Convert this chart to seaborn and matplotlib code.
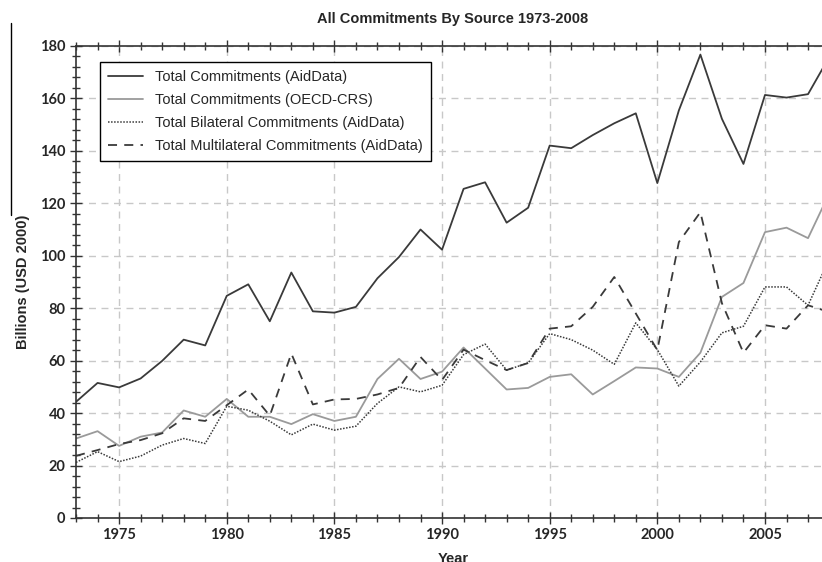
import numpy as np
import pandas as pd
import matplotlib
matplotlib.use("Agg")
import matplotlib.pyplot as plt
import seaborn as sns
from matplotlib.ticker import MultipleLocator
from matplotlib.lines import Line2D

# --- 数据 ---
years = list(range(1973, 2009))
total_aiddata = [44.3, 51.5, 49.8, 53.2, 59.9, 68.0, 65.8, 84.7, 89.1, 75.0,
                 93.6, 78.8, 78.3, 80.5, 91.4, 99.5, 110.0, 102.3, 125.5, 128.0,
                 112.6, 118.3, 142.0, 141.0, 146.0, 150.5, 154.3, 127.7, 155.4, 176.7,
                 152.2, 135.0, 161.3, 160.3, 161.6, 176.0]
total_oecd = [30.3, 33.1, 27.5, 31.0, 32.6, 41.0, 38.6, 45.4, 38.6, 38.6,
              35.8, 39.6, 37.0, 38.6, 53.0, 60.7, 53.0, 55.8, 65.0, 57.0,
              49.0, 49.6, 53.8, 54.8, 47.1, 52.2, 57.4, 57.0, 53.8, 63.0,
              84.3, 89.6, 109.0, 110.7, 106.7, 124.0]
bilateral = [21.2, 25.3, 21.5, 23.6, 27.8, 30.3, 28.4, 42.6, 41.1, 36.9,
             31.7, 35.8, 33.5, 35.0, 43.7, 50.0, 48.1, 50.6, 62.3, 66.3,
             56.4, 59.1, 70.3, 68.0, 64.0, 58.6, 74.4, 64.2, 50.3, 59.5,
             70.6, 73.1, 88.1, 88.1, 81.1, 99.0]
multilateral = [23.7, 25.9, 28.2, 29.7, 32.3, 38.0, 37.0, 43.0, 49.0, 39.0,
                62.7, 43.3, 45.2, 45.4, 47.1, 49.6, 61.4, 52.6, 64.2, 60.2,
                56.4, 59.1, 72.2, 73.1, 80.5, 91.9, 78.0, 64.0, 105.2, 116.6,
                81.9, 63.0, 73.5, 72.2, 81.1, 78.5]

labels = ["Total Commitments (AidData)", "Total Commitments (OECD-CRS)",
          "Total Bilateral Commitments (AidData)", "Total Multilateral Commitments (AidData)"]

df = pd.DataFrame({"year": years,
                   labels[0]: total_aiddata,
                   labels[1]: total_oecd,
                   labels[2]: bilateral,
                   labels[3]: multilateral})

# --- 样式 ---
sns.set_style("white")
plt.rcParams['font.family'] = ['Liberation Sans', 'DejaVu Sans']

fig = plt.figure(figsize=(8.22, 5.62), dpi=100)
ax = fig.add_axes([0.0925, 0.0783, 0.9167, 0.84])

styles = [
    dict(color="#3a3a3a", linestyle="-", linewidth=1.3),
    dict(color="#9a9a9a", linestyle="-", linewidth=1.3),
    dict(color="#3a3a3a", linestyle=(0, (1, 1)), linewidth=1.1),
    dict(color="#3a3a3a", linestyle=(0, (5, 4)), linewidth=1.3),
]
for lab, st in zip(labels, styles):
    sns.lineplot(data=df, x="year", y=lab, ax=ax, label=lab, **st)

ax.set_xlim(1973, 2008)
ax.set_ylim(0, 180)
ax.xaxis.set_major_locator(MultipleLocator(5))
ax.xaxis.set_minor_locator(MultipleLocator(1))
ax.yaxis.set_major_locator(MultipleLocator(20))
ax.yaxis.set_minor_locator(MultipleLocator(4))
ax.tick_params(which="both", direction="inout", top=True, left=True, bottom=True,
               right=False, color="#333333")
ax.tick_params(which="major", length=8, width=1.0, labelsize=10.5)
ax.tick_params(which="minor", length=6, width=1.0)
for lbl in ax.get_xticklabels() + ax.get_yticklabels():
    lbl.set_fontweight("bold")
    lbl.set_family(["Lato", "DejaVu Sans"])

ax.grid(True, which="major", linestyle=(0, (5, 4)), color="#c8c8c8", linewidth=1.0)
for side in ["left", "top", "bottom"]:
    ax.spines[side].set_color("#333333")
    ax.spines[side].set_linewidth(1.2)
ax.spines["right"].set_visible(False)

ax.set_xlabel("Year", fontsize=10.5, fontweight="bold", labelpad=7)
ax.set_ylabel("Billions (USD 2000)", fontsize=10.5, fontweight="bold")
ax.yaxis.set_label_coords(-0.061, 0.5)
fig.text(0.551, 0.966, "All Commitments By Source 1973-2008", ha="center",
         va="center", fontsize=10.5, fontweight="bold")

# 左侧的裁切边线
fig.add_artist(Line2D([10.5 / 822, 10.5 / 822], [1 - 23 / 562, 1 - 215 / 562],
                      transform=fig.transFigure, color="black", linewidth=1.0))

leg = ax.legend(loc="upper left", bbox_to_anchor=(0.032, 0.966), borderaxespad=0,
                fancybox=False, framealpha=1, edgecolor="black", fontsize=10.5,
                handlelength=2.4, labelspacing=0.62, borderpad=0.55)
leg.get_frame().set_linewidth(1.0)

fig.savefig("out.png", dpi=100)
